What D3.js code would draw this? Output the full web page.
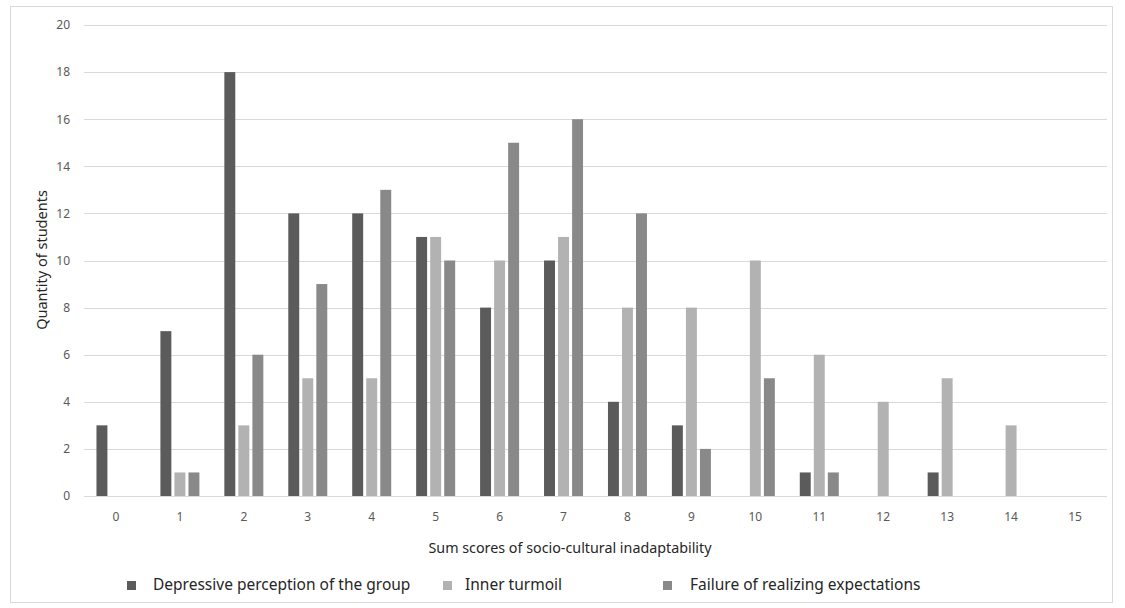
<!DOCTYPE html>
<html>
<head>
<meta charset="utf-8">
<script src="https://cdn.jsdelivr.net/npm/d3@7"></script>
<style>
  body { margin: 0; background: #fff; }
  text { font-family: "Noto Sans", "Open Sans", sans-serif; }
</style>
</head>
<body>
<div id="chart"></div>
<script>
// Chart data
var categories = ["0", "1", "2", "3", "4", "5", "6", "7", "8", "9", "10", "11", "12", "13", "14", "15"];
var seriesNames = ["Depressive perception of the group", "Inner turmoil", "Failure of realizing expectations"];
var depressive = [3, 7, 18, 12, 12, 11, 8, 10, 4, 3, 0, 1, 0, 1, 0, 0];
var innerTurmoil = [0, 1, 3, 5, 5, 11, 10, 11, 8, 8, 10, 6, 4, 5, 3, 0];
var failure = [0, 1, 6, 9, 13, 10, 15, 16, 12, 2, 5, 1, 0, 0, 0, 0];
var yTicks = [0, 2, 4, 6, 8, 10, 12, 14, 16, 18, 20];

var colors = ["#5b5b5b", "#b2b2b2", "#898989"];
var allSeries = [depressive, innerTurmoil, failure];

var svgWidth = 1125;
var svgHeight = 608;

var margin = { top: 25, right: 18, bottom: 112, left: 84 };
var width = svgWidth - margin.left - margin.right;
var height = svgHeight - margin.top - margin.bottom;

var svg = d3.select("#chart")
  .append("svg")
  .attr("width", svgWidth)
  .attr("height", svgHeight);

// Outer frame
svg.append("rect")
  .attr("x", 10.5)
  .attr("y", 6.5)
  .attr("width", 1102)
  .attr("height", 596)
  .attr("fill", "#fff")
  .attr("stroke", "#d9d9d9");

var chartGroup = svg.append("g")
  .attr("transform", `translate(${margin.left}, ${margin.top})`);

// Scales
var xScale = d3.scaleBand()
  .domain(categories)
  .range([0, width])
  .padding(0);

var xInner = d3.scaleBand()
  .domain(d3.range(seriesNames.length))
  .range([0, 39])
  .paddingInner(0.22);

var yScale = d3.scaleLinear()
  .domain([0, 20])
  .range([height, 0]);

// Gridlines
chartGroup.append("g").selectAll("line")
  .data(yTicks)
  .enter()
  .append("line")
  .attr("x1", 0)
  .attr("x2", width)
  .attr("y1", d => Math.round(yScale(d)) + 0.5)
  .attr("y2", d => Math.round(yScale(d)) + 0.5)
  .attr("stroke", "#d9d9d9")
  .attr("stroke-width", 1);

// Y axis labels
var leftAxis = d3.axisLeft(yScale).tickValues(yTicks).tickSize(0).tickPadding(14);
var yAxisG = chartGroup.append("g").call(leftAxis);
yAxisG.select(".domain").remove();
yAxisG.selectAll("text")
  .attr("fill", "#595959")
  .style("font-size", "12px");

// X axis labels
var bottomAxis = d3.axisBottom(xScale).tickSize(0).tickPadding(16);
var xAxisG = chartGroup.append("g")
  .attr("transform", `translate(0, ${height})`)
  .call(bottomAxis);
xAxisG.select(".domain").remove();
xAxisG.selectAll("text")
  .attr("fill", "#595959")
  .style("font-size", "12px");

// Bars
var groups = chartGroup.selectAll(".cat")
  .data(categories)
  .enter()
  .append("g")
  .attr("class", "cat")
  .attr("transform", d => `translate(${xScale(d) + (xScale.bandwidth() - 39) / 2}, 0)`);

groups.selectAll("rect")
  .data((d, i) => allSeries.map((s, k) => ({ k: k, v: s[i] })))
  .enter()
  .append("rect")
  .attr("x", d => xInner(d.k))
  .attr("width", xInner.bandwidth())
  .attr("y", d => yScale(d.v))
  .attr("height", d => height - yScale(d.v))
  .attr("fill", d => colors[d.k]);

// Axis titles
svg.append("text")
  .attr("transform", "rotate(-90)")
  .attr("x", -260)
  .attr("y", 47)
  .attr("text-anchor", "middle")
  .attr("fill", "#262626")
  .style("font-size", "14.5px")
  .text("Quantity of students");

svg.append("text")
  .attr("x", 570)
  .attr("y", 553)
  .attr("text-anchor", "middle")
  .attr("fill", "#262626")
  .style("font-size", "14.3px")
  .text("Sum scores of socio-cultural inadaptability");

// Legend
var legendX = [127, 443, 663];
var legendTextX = [26, 22, 27];
var legend = svg.selectAll(".legend")
  .data(seriesNames)
  .enter()
  .append("g")
  .attr("class", "legend")
  .attr("transform", (d, i) => `translate(${legendX[i]}, 590)`);

legend.append("rect")
  .attr("x", 0)
  .attr("y", -9)
  .attr("width", 9)
  .attr("height", 9)
  .attr("fill", (d, i) => colors[i]);

legend.append("text")
  .attr("x", (d, i) => legendTextX[i])
  .attr("y", 0)
  .attr("fill", "#262626")
  .style("font-size", "15.5px")
  .text(d => d);
</script>
</body>
</html>
